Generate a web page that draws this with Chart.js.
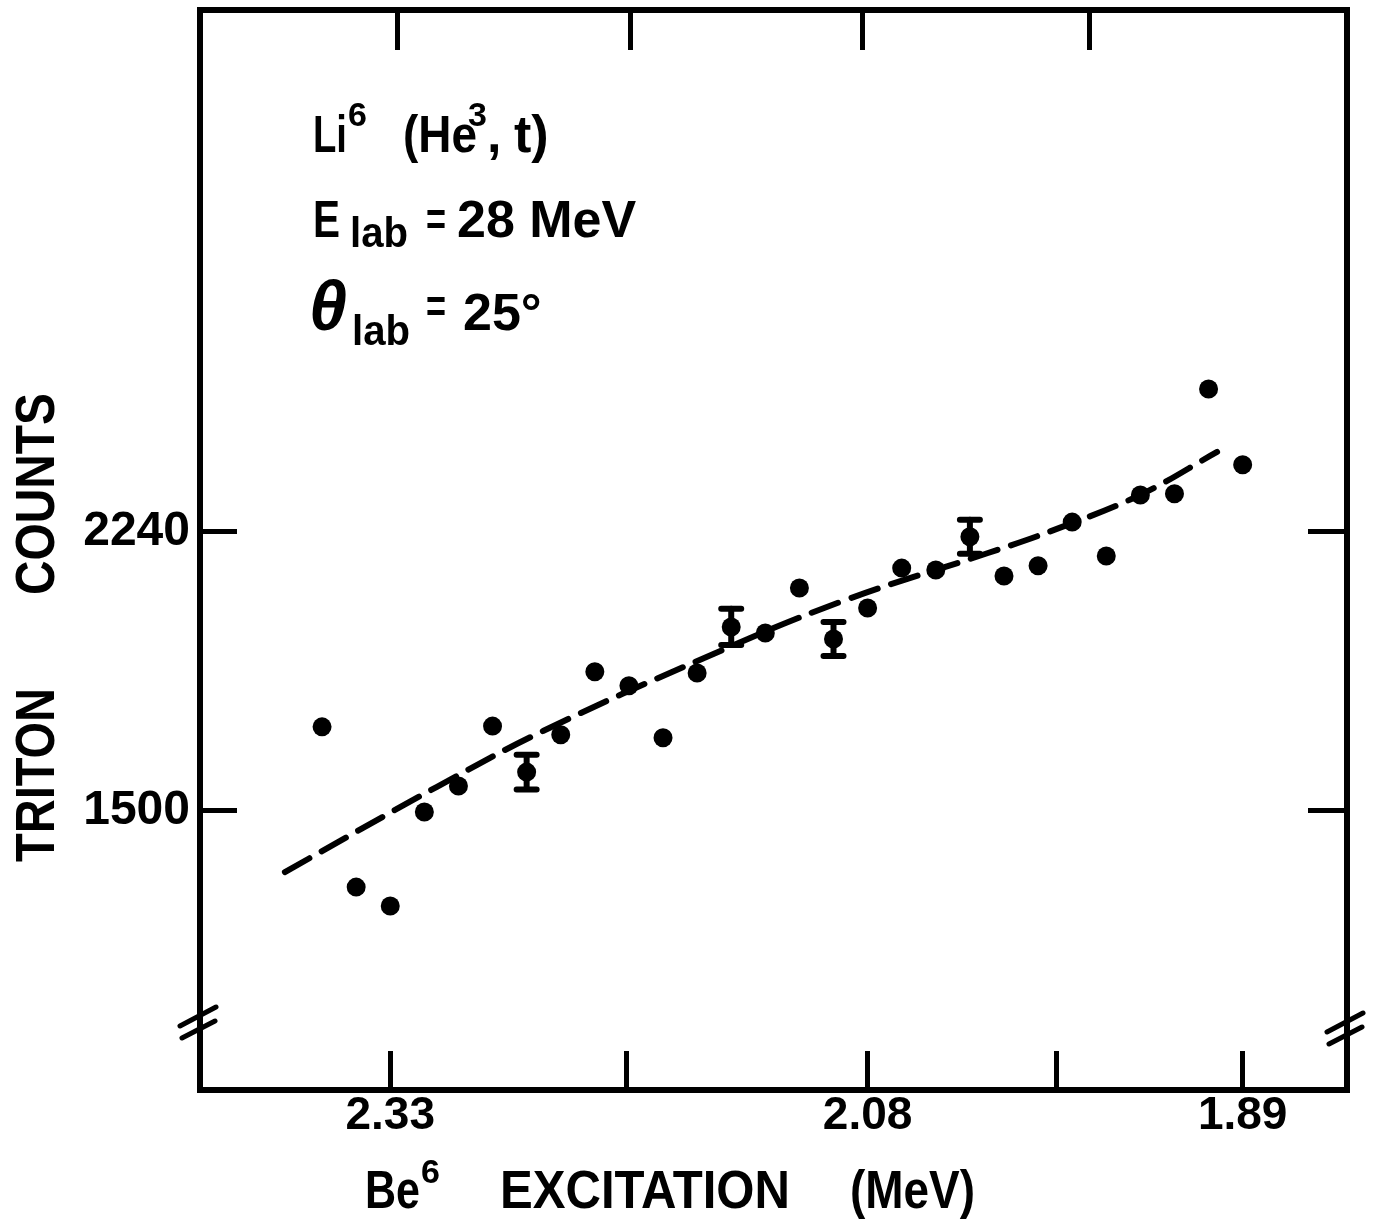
<!DOCTYPE html>
<html>
<head>
<meta charset="utf-8">
<title>Li6(He3,t) triton counts</title>
<script src="https://cdn.jsdelivr.net/npm/chart.js@4.4.1/dist/chart.umd.min.js"></script>
<style>
  html, body { margin: 0; padding: 0; background: #fff; }
  #wrap { position: relative; width: 1374px; height: 1220px; }
</style>
</head>
<body>
<div id="wrap"><canvas id="spectrum"></canvas></div>
<script>
// ---- data: one point per channel, Be6 excitation falls to the right ----
const channels = [0, 1, 2, 3, 4, 5, 6, 7, 8, 9, 10, 11, 12, 13,
                  14, 15, 16, 17, 18, 19, 20, 21, 22, 23, 24, 25, 26, 27];
const tritonCounts = [1723, 1298, 1248, 1497, 1566, 1725, 1603, 1702, 1869, 1832,
                      1694, 1866, 1988, 1972, 2091, 1956, 2038, 2144, 2139, 2227,
                      2123, 2150, 2266, 2176, 2338, 2341, 2619, 2418];

// statistical errors shown on a few channels only
const errChannels = [6, 12, 15, 19];
const errCounts = [46, 48, 45, 45];

// smooth background curve drawn through the spectrum
const fitChannels = [-1.09, 3.37, 6.48, 11.14, 15.19, 19.53, 21.55, 23.99, 26.25];
const fitCounts = [1338, 1564, 1712, 1903, 2054, 2184, 2248, 2338, 2452];

// axis ticks
const xTickChannels = [2, 8.93, 16, 21.55, 27];
const xTickLabels = ["2.33", "", "2.08", "", "1.89"];
const xTopTickChannels = [2.2, 9.05, 15.85, 22.5];
const yTicks = [1500, 2240];
const yTickLabels = ["1500", "2240"];

// where the suppressed zero is marked on the side axes
const axisBreakCount = 935;

const LETTER = "'Liberation Sans', Arial, sans-serif";
const INK = "#000";
const B = s => `bold ${s}px ${LETTER}`;

function setTicks(values) {
  return scale => { scale.ticks = values.map(v => ({ value: v })); };
}
function fitBox(size) {
  return scale => {
    if (scale.isHorizontal()) scale.height = size; else scale.width = size;
    scale.paddingTop = scale.paddingBottom = 0;
    scale.paddingLeft = scale.paddingRight = 0;
  };
}
function put(ctx, text, x, y, font, maxW) {
  ctx.font = font;
  if (maxW) ctx.fillText(text, x, y, maxW); else ctx.fillText(text, x, y);
}

// error bars with heavy caps
const errorBars = {
  id: "errorBars",
  afterDatasetsDraw(chart) {
    const { ctx, scales: { x, y } } = chart;
    ctx.save();
    ctx.strokeStyle = INK;
    errChannels.forEach((ch, i) => {
      const c = tritonCounts[channels.indexOf(ch)];
      const px = x.getPixelForValue(ch);
      const top = y.getPixelForValue(c + errCounts[i]);
      const bot = y.getPixelForValue(c - errCounts[i]);
      ctx.lineWidth = 6;
      ctx.beginPath();
      ctx.moveTo(px, top); ctx.lineTo(px, bot);
      ctx.stroke();
      ctx.lineWidth = 6;
      ctx.lineCap = "round";
      ctx.beginPath();
      ctx.moveTo(px - 10, top); ctx.lineTo(px + 10, top);
      ctx.moveTo(px - 10, bot); ctx.lineTo(px + 10, bot);
      ctx.stroke();
    });
    ctx.restore();
  }
};

// "//" marks on both side axes and all hand lettering
const lettering = {
  id: "lettering",
  afterDraw(chart) {
    const { ctx, chartArea: a, scales: { y } } = chart;
    ctx.save();
    ctx.strokeStyle = INK;
    ctx.lineWidth = 5;
    ctx.lineCap = "round";
    const yb = y.getPixelForValue(axisBreakCount);
    [a.left, a.right].forEach((ax, k) => {
      const off = k ? 6 : 0;
      ctx.beginPath();
      ctx.moveTo(ax - 20, yb + off + 2);  ctx.lineTo(ax + 16, yb + off - 17);
      ctx.moveTo(ax - 18, yb + off + 14); ctx.lineTo(ax + 15, yb + off - 3);
      ctx.stroke();
    });

    ctx.fillStyle = INK;
    ctx.textAlign = "left";
    ctx.textBaseline = "alphabetic";

    // reaction and kinematics
    put(ctx, "Li", 313, 152, B(52), 34);
    put(ctx, "6", 348, 126, B(34));
    put(ctx, "(He", 403, 152, B(52), 74);
    put(ctx, "3", 468, 126, B(34));
    put(ctx, ",", 487, 152, B(52));
    put(ctx, "t)", 514, 152, B(52), 40);

    put(ctx, "E", 313, 237, B(52), 27);
    put(ctx, "lab", 350, 247, B(42), 58);
    put(ctx, "=", 426, 235, B(46), 20);
    put(ctx, "28 MeV", 457, 237, B(52), 192);

    put(ctx, "\u03B8", 309, 330, `italic bold 70px ${LETTER}`, 38);
    put(ctx, "lab", 352, 345, B(42), 58);
    put(ctx, "=", 426, 322, B(46), 20);
    put(ctx, "25\u00B0", 463, 330, B(52), 90);

    // x title
    put(ctx, "Be", 365, 1208, B(54), 55);
    put(ctx, "6", 421, 1183, B(34));
    put(ctx, "EXCITATION", 500, 1208, B(54), 290);
    put(ctx, "(MeV)", 850, 1208, B(54), 125);

    // y title, read bottom to top
    [["TRITON", 862, 174], ["COUNTS", 595, 202]].forEach(([t, y0, w]) => {
      ctx.save();
      ctx.translate(54, y0);
      ctx.rotate(-Math.PI / 2);
      put(ctx, t, 0, 0, B(56), w);
      ctx.restore();
    });
    ctx.restore();
  }
};

const ctxSpec = document.getElementById("spectrum").getContext("2d");
new Chart(ctxSpec, {
  type: "scatter",
  data: {
    datasets: [
      {
        label: "Triton counts",
        data: channels.map((ch, i) => ({ x: ch, y: tritonCounts[i] })),
        backgroundColor: INK,
        borderWidth: 0,
        pointRadius: 9.5,
        showLine: false
      },
      {
        label: "Background",
        data: fitChannels.map((ch, i) => ({ x: ch, y: fitCounts[i] })),
        showLine: true,
        borderColor: INK,
        borderWidth: 6,
        borderDash: [28, 14],
        borderCapStyle: "round",
        tension: 0.4,
        pointRadius: 0
      }
    ]
  },
  options: {
    responsive: true,
    maintainAspectRatio: false,
    animation: false,
    layout: { padding: 0 },
    plugins: { legend: { display: false }, tooltip: { enabled: false } },
    scales: {
      x: {
        type: "linear", position: "bottom", min: -3.58, max: 30.06,
        afterBuildTicks: setTicks(xTickChannels),
        afterFit: fitBox(130),
        grid: { drawOnChartArea: false, color: INK, lineWidth: 5, tickLength: -39 },
        border: { color: INK, width: 6 },
        ticks: {
          autoSkip: false, maxRotation: 0, padding: 38, color: INK,
          font: { family: LETTER, size: 46, weight: "bold" },
          callback: (v, i) => xTickLabels[i]
        }
      },
      xTop: {
        type: "linear", position: "top", min: -3.58, max: 30.06,
        afterBuildTicks: setTicks(xTopTickChannels),
        afterFit: fitBox(10),
        grid: { drawOnChartArea: false, color: INK, lineWidth: 5, tickLength: -40 },
        border: { color: INK, width: 6 },
        ticks: { autoSkip: false, maxRotation: 0, callback: () => "" }
      },
      y: {
        type: "linear", position: "left", min: 760, max: 3624,
        afterBuildTicks: setTicks(yTicks),
        afterFit: fitBox(200),
        grid: { drawOnChartArea: false, color: INK, lineWidth: 5, tickLength: -37 },
        border: { color: INK, width: 6 },
        ticks: {
          autoSkip: false, padding: 47, color: INK,
          font: { family: LETTER, size: 48, weight: "bold" },
          callback: (v, i) => yTickLabels[i]
        }
      },
      yRight: {
        type: "linear", position: "right", min: 760, max: 3624,
        afterBuildTicks: setTicks(yTicks),
        afterFit: fitBox(27),
        grid: { drawOnChartArea: false, color: INK, lineWidth: 5, tickLength: -39 },
        border: { color: INK, width: 6 },
        ticks: { autoSkip: false, callback: () => "" }
      }
    }
  },
  plugins: [errorBars, lettering]
});
</script>
</body>
</html>
